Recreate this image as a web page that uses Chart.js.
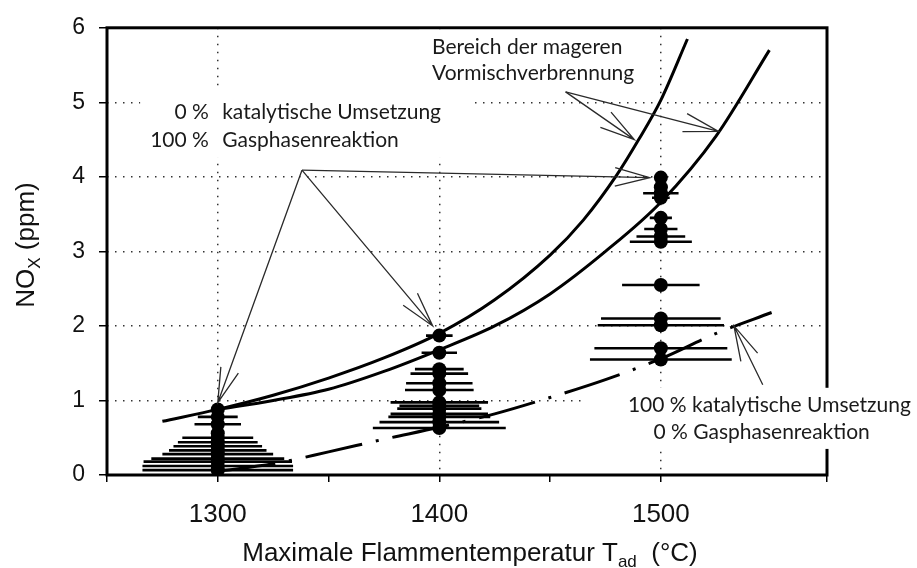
<!DOCTYPE html>
<html>
<head>
<meta charset="utf-8">
<script src="https://cdn.jsdelivr.net/npm/chart.js@4.4.0/dist/chart.umd.min.js"></script>
<style>
html, body { margin: 0; padding: 0; background: #fff; }
#wrap { width: 917px; height: 568px; position: relative; }
</style>
</head>
<body>
<div id="wrap"><canvas id="mychart"></canvas></div>
<script>
// measured NOx (ppm) and horizontal spread (°C) at the three flame temperatures
var nox1300 = [0.88, 0.78, 0.68, 0.56, 0.50, 0.44, 0.385, 0.33, 0.28, 0.22, 0.18, 0.12, 0.065];
var err1300 = [2, 9, 10.5, 2, 16, 18, 20, 22, 25, 30, 33.5, 34, 34];
var nox1400 = [1.87, 1.64, 1.42, 1.36, 1.23, 1.14, 0.975, 0.93, 0.89, 0.82, 0.78, 0.71, 0.63];
var err1400 = [6, 8, 11, 13, 15, 15.5, 22, 18, 19, 22, 23, 27, 30];
var nox1500 = [3.99, 3.86, 3.78, 3.72, 3.45, 3.30, 3.20, 3.13, 2.55, 2.10, 2.01, 1.70, 1.55];
var err1500 = [0, 3, 8, 4, 5, 7.5, 11, 14, 17.5, 27, 28.5, 30, 32];

// lean premix combustion (two curves) and 100 % catalytic conversion (dash-dot)
var tUpper = [1275, 1300, 1325, 1350, 1375, 1400, 1425, 1450, 1465, 1480, 1490, 1500, 1512];
var noxUpper = [0.72, 0.88, 1.07, 1.30, 1.57, 1.90, 2.35, 2.95, 3.42, 4.02, 4.50, 5.03, 5.85];
var tLower = [1300, 1325, 1350, 1375, 1400, 1425, 1450, 1475, 1500, 1525, 1549];
var noxLower = [0.88, 1.00, 1.15, 1.39, 1.68, 2.00, 2.43, 3.00, 3.66, 4.55, 5.70];
var tCat = [1300, 1325, 1350, 1375, 1400, 1425, 1450, 1475, 1500, 1525, 1550];
var noxCat = [0.05, 0.15, 0.31, 0.48, 0.64, 0.82, 1.04, 1.28, 1.56, 1.90, 2.18];

var xLabels = [1300, 1400, 1500];

// annotation arrows (data units): start -> tip
var arrowFrom = [[1338, 4.09], [1338, 4.09], [1338, 4.09], [1457, 5.14], [1457, 5.14], [1546, 1.21]];
var arrowTo = [[1300, 0.97], [1397, 2.0], [1495, 3.99], [1488, 4.50], [1526, 4.61], [1533, 2.0]];

function pairs(xs, ys) {
    var out = [];
    for (var i = 0; i < xs.length; i++) out.push({x: xs[i], y: ys[i]});
    return out;
}

var points = [];
var bars = [];
function addCluster(t, ys, errs) {
    for (var i = 0; i < ys.length; i++) {
        points.push({x: t, y: ys[i]});
        bars.push({x: t - errs[i], y: ys[i]});
        bars.push({x: t + errs[i], y: ys[i]});
        bars.push({x: t, y: null});
    }
}
addCluster(1300, nox1300, err1300);
addCluster(1400, nox1400, err1400);
addCluster(1500, nox1500, err1500);

var TXT = '#1a1a1a';
var textFont = '21px Lato';

var extras = {
    id: 'extras',
    beforeDatasetsDraw: function (chart) {
        var ctx = chart.ctx, a = chart.chartArea;
        var sx = chart.scales.x, sy = chart.scales.y;
        function px(v) { return sx.getPixelForValue(v); }
        function py(v) { return sy.getPixelForValue(v); }
        ctx.save();
        // frame
        ctx.strokeStyle = '#000';
        ctx.lineWidth = 3;
        ctx.strokeRect(a.left, a.top, a.right - a.left, a.bottom - a.top);
        // white text boxes hiding the grid
        ctx.fillStyle = '#fff';
        ctx.fillRect(px(1265), py(5.21), px(1415) - px(1265), py(4.255) - py(5.21));
        ctx.fillRect(px(1391), a.top + 2, px(1495) - px(1391), py(5.05) - a.top - 2);
        ctx.fillRect(px(1464.4), py(1.17), chart.width - px(1464.4), py(0.35) - py(1.17));
        // texts
        ctx.fillStyle = TXT;
        ctx.font = textFont;
        ctx.textBaseline = 'middle';
        ctx.textAlign = 'right';
        ctx.fillText('0 %', px(1296), py(4.87));
        ctx.fillText('100 %', px(1296), py(4.49));
        ctx.textAlign = 'left';
        ctx.fillText('katalytische Umsetzung', px(1302), py(4.87));
        ctx.fillText('Gasphasenreaktion', px(1302), py(4.49));
        ctx.fillText('Bereich der mageren', px(1396.7), py(5.74));
        ctx.fillText('Vormischverbrennung', px(1396.7), py(5.39));
        ctx.textAlign = 'center';
        ctx.fillText('100 % katalytische Umsetzung', px(1549), py(0.93));
        ctx.fillText('0 % Gasphasenreaktion', px(1545.5), py(0.57));
        ctx.restore();
    },
    afterDatasetsDraw: function (chart) {
        var ctx = chart.ctx;
        var sx = chart.scales.x, sy = chart.scales.y;
        ctx.save();
        ctx.strokeStyle = '#2a2a2a';
        ctx.lineWidth = 1.3;
        for (var i = 0; i < arrowFrom.length; i++) {
            var x0 = sx.getPixelForValue(arrowFrom[i][0]), y0 = sy.getPixelForValue(arrowFrom[i][1]);
            var x1 = sx.getPixelForValue(arrowTo[i][0]), y1 = sy.getPixelForValue(arrowTo[i][1]);
            var ang = Math.atan2(y0 - y1, x0 - x1);
            var len = 36, spread = 15 * Math.PI / 180;
            ctx.beginPath();
            ctx.moveTo(x0, y0);
            ctx.lineTo(x1, y1);
            ctx.moveTo(x1 + len * Math.cos(ang - spread), y1 + len * Math.sin(ang - spread));
            ctx.lineTo(x1, y1);
            ctx.lineTo(x1 + len * Math.cos(ang + spread), y1 + len * Math.sin(ang + spread));
            ctx.stroke();
        }
        ctx.restore();
    },
    afterDraw: function (chart) {
        var ctx = chart.ctx, a = chart.chartArea;
        ctx.save();
        ctx.fillStyle = '#111';
        ctx.textBaseline = 'alphabetic';
        ctx.textAlign = 'left';
        // x title with subscript
        var big = '26px "Liberation Sans"', small = '17px "Liberation Sans"';
        var p1 = 'Maximale Flammentemperatur T', p2 = 'ad', p3 = '  (°C)';
        ctx.font = big; var w1 = ctx.measureText(p1).width, w3 = ctx.measureText(p3).width;
        ctx.font = small; var w2 = ctx.measureText(p2).width;
        var cx = (a.left + a.right) / 2 + 3, x = cx - (w1 + w2 + w3) / 2, base = 561;
        ctx.font = big; ctx.fillText(p1, x, base);
        ctx.font = small; ctx.fillText(p2, x + w1, base + 6);
        ctx.font = big; ctx.fillText(p3, x + w1 + w2, base);
        // y title with subscript
        ctx.translate(34, 245);
        ctx.rotate(-Math.PI / 2);
        var q1 = 'NO', q2 = 'X', q3 = ' (ppm)';
        ctx.font = big; var v1 = ctx.measureText(q1).width, v3 = ctx.measureText(q3).width;
        ctx.font = small; var v2 = ctx.measureText(q2).width;
        var y0 = -(v1 + v2 + v3) / 2;
        ctx.font = big; ctx.fillText(q1, y0, 0);
        ctx.font = small; ctx.fillText(q2, y0 + v1, 6);
        ctx.font = big; ctx.fillText(q3, y0 + v1 + v2, 0);
        ctx.restore();
    }
};

Chart.defaults.font.family = '"Liberation Sans", Arial, sans-serif';
Chart.defaults.color = '#111';

var ctx = document.getElementById('mychart');
var chart = new Chart(ctx, {
    type: 'scatter',
    data: {
        datasets: [{
            data: points,
            pointRadius: 7,
            pointBackgroundColor: '#000',
            pointBorderWidth: 0,
            order: 0
        }, {
            type: 'line',
            data: bars,
            showLine: true,
            spanGaps: false,
            borderColor: '#000',
            borderWidth: 2.6,
            pointRadius: 0,
            order: 1
        }, {
            type: 'line',
            data: pairs(tUpper, noxUpper),
            borderColor: '#000',
            borderWidth: 3,
            pointRadius: 0,
            cubicInterpolationMode: 'monotone',
            order: 2
        }, {
            type: 'line',
            data: pairs(tLower, noxLower),
            borderColor: '#000',
            borderWidth: 3,
            pointRadius: 0,
            cubicInterpolationMode: 'monotone',
            order: 2
        }, {
            type: 'line',
            data: pairs(tCat, noxCat),
            borderColor: '#000',
            borderWidth: 3,
            borderDash: [58, 14, 3, 14],
            pointRadius: 0,
            cubicInterpolationMode: 'monotone',
            order: 2
        }]
    },
    options: {
        responsive: true,
        maintainAspectRatio: false,
        animation: false,
        layout: { padding: { top: 24, right: 90, left: 0, bottom: 0 } },
        plugins: { legend: { display: false }, tooltip: { enabled: false } },
        scales: {
            x: {
                type: 'linear',
                min: 1250,
                max: 1575,
                afterFit: function (s) { s.height = 93; },
                border: { display: false, dash: [1.5, 6.5] },
                ticks: {
                    stepSize: 50,
                    autoSkip: false,
                    maxRotation: 0,
                    padding: 17,
                    font: { size: 26 },
                    callback: function (v) { return xLabels.indexOf(v) >= 0 ? String(v) : ''; }
                },
                grid: {
                    color: function (c) {
                        var v = c.tick ? c.tick.value : null;
                        return xLabels.indexOf(v) >= 0 ? '#333' : 'rgba(0,0,0,0)';
                    },
                    lineWidth: 1.5,
                    tickColor: '#000',
                    tickWidth: 1.5,
                    tickBorderDash: [],
                    tickLength: 7
                }
            },
            y: {
                min: 0,
                max: 6,
                afterFit: function (s) { s.width = 107; },
                border: { display: false, dash: [1.5, 6.5] },
                ticks: {
                    stepSize: 1,
                    padding: 14,
                    font: { size: 23 }
                },
                grid: {
                    color: function (c) {
                        var v = c.tick ? c.tick.value : null;
                        return (v > 0 && v < 6) ? '#333' : 'rgba(0,0,0,0)';
                    },
                    lineWidth: 1.5,
                    tickColor: '#000',
                    tickWidth: 1.5,
                    tickBorderDash: [],
                    tickLength: 8
                }
            }
        }
    },
    plugins: [extras]
});
</script>
</body>
</html>
